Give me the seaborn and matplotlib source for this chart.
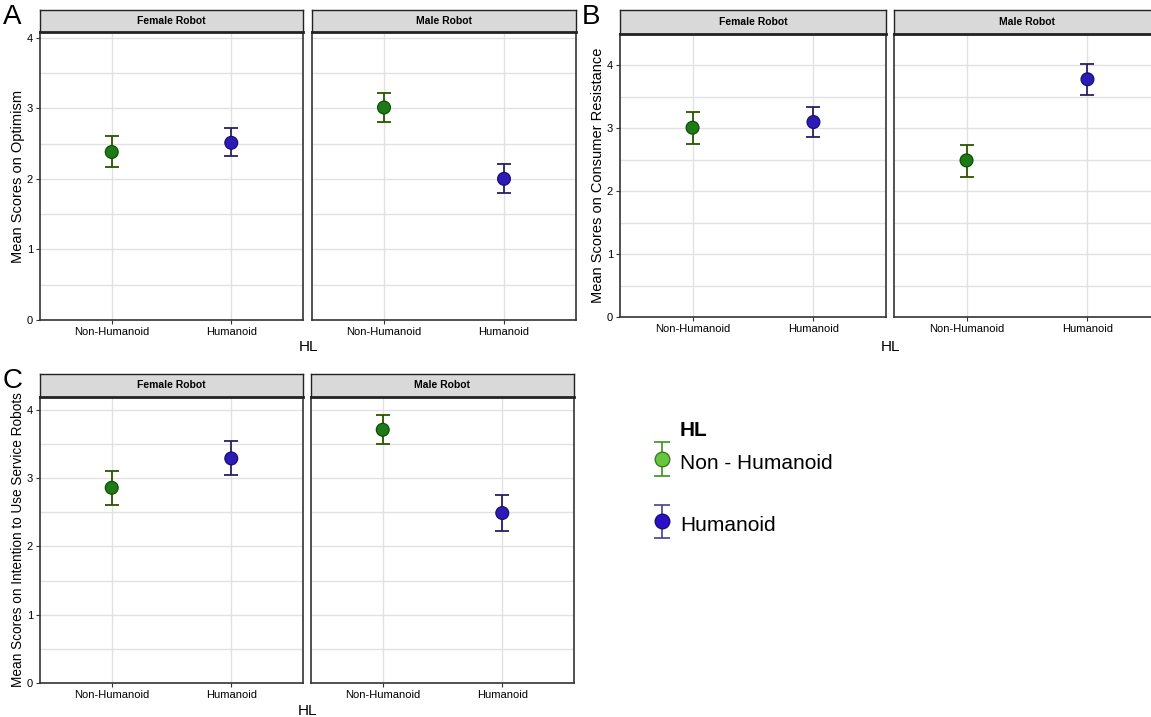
import numpy as np
import pandas as pd
import matplotlib
matplotlib.use("Agg")
import matplotlib.pyplot as plt
from matplotlib.legend_handler import HandlerErrorbar
from matplotlib.ticker import MultipleLocator
import seaborn as sns

# --- Data ---
HL_LEVELS = ["Non-Humanoid", "Humanoid"]
ROBOTS = ["Female Robot", "Male Robot"]

# Panel A: optimism
opt_female_mean = [2.38, 2.51]
opt_female_lo = [2.17, 2.32]
opt_female_hi = [2.60, 2.72]
opt_male_mean = [3.01, 2.00]
opt_male_lo = [2.81, 1.80]
opt_male_hi = [3.21, 2.21]

# Panel B: consumer resistance
res_female_mean = [3.01, 3.10]
res_female_lo = [2.75, 2.86]
res_female_hi = [3.26, 3.34]
res_male_mean = [2.49, 3.78]
res_male_lo = [2.23, 3.53]
res_male_hi = [2.74, 4.03]

# Panel C: intention to use
int_female_mean = [2.86, 3.29]
int_female_lo = [2.61, 3.04]
int_female_hi = [3.10, 3.54]
int_male_mean = [3.71, 2.49]
int_male_lo = [3.50, 2.23]
int_male_hi = [3.92, 2.75]

# --- Style ---
sns.set_style("white")
plt.rcParams["font.family"] = ["Liberation Sans", "DejaVu Sans"]
plt.rcParams["text.color"] = "black"
plt.rcParams["axes.labelcolor"] = "black"
plt.rcParams["xtick.color"] = "black"
plt.rcParams["ytick.color"] = "black"

W, H = 1151, 717
POINT_FILL = {"Non-Humanoid": "#1d7a17", "Humanoid": "#2d1bb8"}
POINT_EDGE = {"Non-Humanoid": "#0e4d0a", "Humanoid": "#19106e"}
BAR_COLOR = {"Non-Humanoid": "#2b5400", "Humanoid": "#29205e"}
GRID = "#e1e1e1"

fig = plt.figure(figsize=(W / 100, H / 100), dpi=100)


def px_axes(left, top, right, bottom):
    return fig.add_axes([left / W, 1 - bottom / H, (right - left) / W, (bottom - top) / H])


def add_strip(left, top, right, bottom, label):
    sax = px_axes(left, top, right, bottom)
    sax.set_facecolor("#d9d9d9")
    sax.set_xticks([])
    sax.set_yticks([])
    for s in sax.spines.values():
        s.set_color("#222222")
        s.set_linewidth(1.0)
    sax.spines["bottom"].set_linewidth(2.0)
    sax.text(0.5, 0.5, label, ha="center", va="center", fontsize=7.5,
             fontweight="bold", transform=sax.transAxes)


def draw_panel(ax, means, lows, highs, ymax, show_y):
    df = pd.DataFrame({"HL": HL_LEVELS, "mean": means, "lo": lows, "hi": highs})
    yerr = [df["mean"] - df["lo"], df["hi"] - df["mean"]]
    for i, row in df.iterrows():
        ax.errorbar([row["HL"]], [row["mean"]], yerr=[[yerr[0][i]], [yerr[1][i]]],
                    fmt="none", ecolor=BAR_COLOR[row["HL"]], elinewidth=1.3,
                    capsize=5, capthick=1.3, zorder=3)
    sns.scatterplot(data=df, x="HL", y="mean", hue="HL", palette=POINT_FILL,
                    s=85, linewidth=0.9, edgecolor=[POINT_EDGE[h] for h in df["HL"]],
                    legend=False, ax=ax, zorder=4)
    ax.set_xlim(-0.6, 1.6)
    ax.set_ylim(0, ymax)
    ax.yaxis.set_major_locator(MultipleLocator(1))
    ax.yaxis.set_minor_locator(MultipleLocator(0.5))
    ax.grid(True, which="both", color=GRID, linewidth=1.0, zorder=0)
    ax.set_axisbelow(True)
    ax.tick_params(axis="both", which="major", direction="out", length=3, width=0.8,
                   labelsize=8, pad=2, color="#333333", left=True, bottom=True)
    ax.tick_params(axis="y", which="minor", length=0)
    ax.set_xlabel("")
    ax.set_ylabel("")
    if not show_y:
        ax.tick_params(axis="y", which="major", left=False, labelleft=False)
    for s in ax.spines.values():
        s.set_color("#333333")
        s.set_linewidth(1.2)


panels = [
    # letter, letter pos, ylabel, label size, ymax, strip top, panel top, bottom, female x, male x, xlabel pos, data
    ("A", (3, 4), "Mean Scores on Optimism", 10.5, 4.08, 10, 32, 320, (40, 303), (312, 576), (308, 347),
     [(opt_female_mean, opt_female_lo, opt_female_hi), (opt_male_mean, opt_male_lo, opt_male_hi)]),
    ("B", (582, 4), "Mean Scores on Consumer Resistance", 10.5, 4.5, 10, 34, 317, (620, 886), (894, 1160), (890, 347),
     [(res_female_mean, res_female_lo, res_female_hi), (res_male_mean, res_male_lo, res_male_hi)]),
    ("C", (3, 368), "Mean Scores on Intention to Use Service Robots", 9.8, 4.19, 374, 397, 683, (40, 303), (311, 574), (307, 711),
     [(int_female_mean, int_female_lo, int_female_hi), (int_male_mean, int_male_lo, int_male_hi)]),
]

for letter, lpos, ylabel, ysize, ymax, stop, ptop, pbot, fx, mx, xlpos, data in panels:
    for j, (xr, robot) in enumerate(zip([fx, mx], ROBOTS)):
        ax = px_axes(xr[0], ptop, xr[1], pbot)
        m, lo, hi = data[j]
        draw_panel(ax, m, lo, hi, ymax, show_y=(j == 0))
        add_strip(xr[0], stop, xr[1], ptop, robot)
        if j == 0:
            ax.set_ylabel(ylabel, fontsize=ysize, labelpad=1)
    fig.text(lpos[0] / W, 1 - lpos[1] / H, letter, fontsize=20, ha="left", va="top")
    fig.text(xlpos[0] / W, 1 - xlpos[1] / H, "HL", fontsize=11, ha="center", va="center")

# --- Legend (proxy artists drawn outside a hidden axes) ---
leg_ax = px_axes(640, 410, 900, 560)
leg_ax.axis("off")
leg_ax.set_xlim(0, 1)
leg_ax.set_ylim(0, 1)
h_nh = leg_ax.errorbar([5], [5], yerr=[1], fmt="o", color="#3f8f1f", markerfacecolor="#66c640",
                       markeredgecolor="#3a7a20", markersize=10.5, capsize=6, elinewidth=1.2, capthick=1.2)
h_h = leg_ax.errorbar([5], [5], yerr=[1], fmt="o", color="#4a3f88", markerfacecolor="#2a10c8",
                      markeredgecolor="#1a0f70", markersize=10.5, capsize=6, elinewidth=1.2, capthick=1.2)
fig.legend([h_nh, h_h], ["Non - Humanoid", "Humanoid"], loc="upper left",
           bbox_to_anchor=(654 / W, 1 - 449 / H), frameon=False, fontsize=15,
           handlelength=0.8, handletextpad=0.45, handleheight=1.6, labelspacing=1.7,
           borderaxespad=0, borderpad=0,
           handler_map={type(h_nh): HandlerErrorbar(yerr_size=0.8)})
fig.text(680 / W, 1 - 430 / H, "HL", fontsize=15, fontweight="bold", ha="left", va="center")

fig.savefig("out.png", dpi=100)
